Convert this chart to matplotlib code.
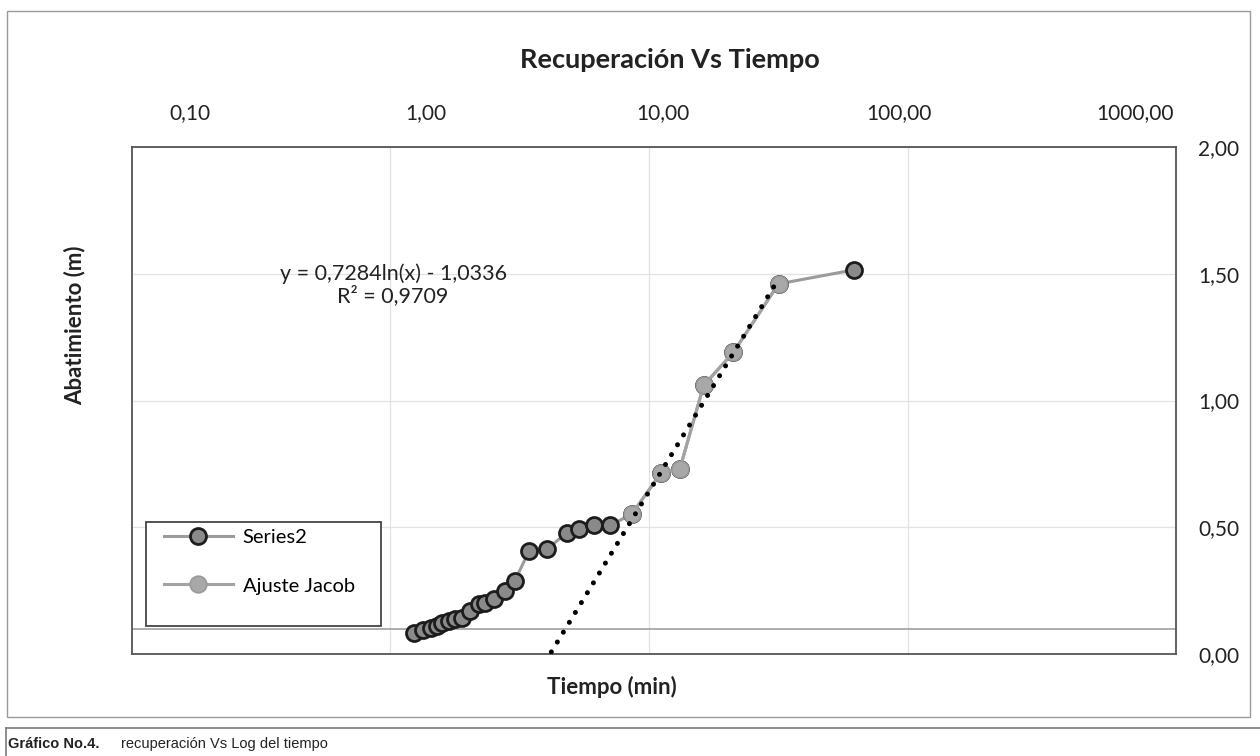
import matplotlib
matplotlib.use("Agg")
import matplotlib.pyplot as plt
from matplotlib.lines import Line2D
from matplotlib.patches import Rectangle
from matplotlib.ticker import FixedLocator, NullLocator, FuncFormatter
import numpy as np

plt.rcParams['font.family'] = ['Lato', 'DejaVu Sans']

# Series2: todos los datos de recuperación
tiempo = [1.23, 1.33, 1.44, 1.51, 1.58, 1.68, 1.78, 1.89, 2.03, 2.19, 2.32, 2.50,
          2.76, 3.02, 3.43, 4.04, 4.80, 5.36, 6.09, 7.06, 8.56, 11.1, 13.1,
          16.2, 21.1, 31.5, 61.4]
abatimiento = [0.084, 0.095, 0.104, 0.112, 0.121, 0.130, 0.137, 0.141, 0.171,
               0.196, 0.200, 0.217, 0.248, 0.288, 0.407, 0.415, 0.479, 0.495,
               0.507, 0.507, 0.553, 0.715, 0.730, 1.06, 1.19, 1.46, 1.515]

# Ajuste Jacob: tramo recto usado para la regresión
tiempo_jacob = [8.56, 11.1, 13.1, 16.2, 21.1, 31.5]
abat_jacob = [0.553, 0.715, 0.730, 1.06, 1.19, 1.46]

# línea de tendencia logarítmica mostrada en el gráfico
pendiente = 0.7284
intercepto = -1.0336
r2 = 0.9709

top_ticks = [0.1, 1, 10, 100, 1000]
top_labels = ["0,10", "1,00", "10,00", "100,00", "1000,00"]
y_ticks = [0.0, 0.5, 1.0, 1.5, 2.0]

W, H = 1260, 756
fig = plt.figure(figsize=(12.6, 7.56), dpi=100)

# marco exterior del gráfico y del pie de figura
fig.patches.append(Rectangle((7 / W, 1 - 717 / H), 1243 / W, 706 / H, transform=fig.transFigure,
                             fill=False, edgecolor="#9a9a9a", linewidth=1.0))
fig.add_artist(Line2D([6 / W, 1.0], [1 - 728 / H, 1 - 728 / H], color="#7a7a7a", linewidth=1.2))
fig.add_artist(Line2D([6 / W, 6 / W], [1 - 728 / H, 0.0], color="#7a7a7a", linewidth=1.2))

ax = fig.add_axes([132 / W, 1 - 654 / H, 1044 / W, 507 / H])
ax.set_xscale("log")
ax.set_xlim(0.1005, 1079)
ax.set_ylim(0, 2)

ax.plot(tiempo, abatimiento, color="#9b9b9b", linewidth=2.2, marker="o", markersize=11.5,
        markerfacecolor="#8a8a8a", markeredgecolor="#1c1c1c", markeredgewidth=2.0,
        label="Series2", zorder=3)
ax.plot(tiempo_jacob, abat_jacob, color="#a3a3a3", linewidth=2.2, marker="o", markersize=12,
        markerfacecolor="#a8a8a8", markeredgecolor="#9a9a9a", markeredgewidth=1.2,
        label="Ajuste Jacob", zorder=4)

xt = np.geomspace(3.2, tiempo_jacob[-1], 200)
ax.plot(xt, pendiente * np.log(xt) + intercepto, color="black", linewidth=3.6,
        linestyle=(0, (0.01, 2.3)), dash_capstyle="round", zorder=5)

ax.axhline(0.1, color="#a0a0a0", linewidth=1.2, zorder=2)

ax.xaxis.set_major_locator(FixedLocator([1, 10, 100]))
ax.xaxis.set_minor_locator(NullLocator())
ax.set_xticklabels([])
ax.tick_params(axis="x", length=0)
ax.grid(True, color="#e2e2e2", linewidth=0.9)
ax.set_axisbelow(True)

ax.yaxis.tick_right()
ax.set_yticks(y_ticks)
ax.yaxis.set_major_formatter(FuncFormatter(lambda v, p: f"{v:.2f}".replace(".", ",")))
ax.tick_params(axis="y", length=0, pad=16, labelsize=15, labelcolor="#222222")
for s in ax.spines.values():
    s.set_color("#555555")
    s.set_linewidth(1.3)

# eje secundario superior con las etiquetas de tiempo
ax2 = ax.twiny()
ax2.set_xscale("log")
ax2.set_xlim(10 ** -1.2455, 10 ** 3.1735)
ax2.set_xticks(top_ticks)
ax2.set_xticklabels(top_labels)
ax2.xaxis.set_minor_locator(NullLocator())
ax2.tick_params(axis="x", length=0, pad=17, labelsize=15, labelcolor="#222222")
for s in ax2.spines.values():
    s.set_visible(False)

ax.text(0.25, 0.751, "y = 0,7284ln(x) - 1,0336", transform=ax.transAxes,
        ha="center", va="center", fontsize=15.5, color="#222222")
ax.text(0.25, 0.706, f"R² = {r2:.4f}".replace(".", ","), transform=ax.transAxes,
        ha="center", va="center", fontsize=15.5, color="#222222")

fig.text(670 / W, 1 - 60 / H, "Recuperación Vs Tiempo", ha="center", va="center",
         fontsize=19.5, fontweight="bold", color="#222222")
fig.text(75 / W, 1 - 325 / H, "Abatimiento (m)", ha="center", va="center", rotation=90,
         fontsize=16, fontweight="bold", color="#222222")
fig.text(612 / W, 1 - 687 / H, "Tiempo (min)", ha="center", va="center",
         fontsize=16, fontweight="bold", color="#222222")

# leyenda con marco propio
fig.patches.append(Rectangle((146 / W, 1 - 626 / H), 235 / W, 104 / H, transform=fig.transFigure,
                             fill=True, facecolor="white", edgecolor="#444444", linewidth=1.3, zorder=6))
leg = fig.legend(loc="upper left", bbox_to_anchor=(150 / W, 1 - 515 / H), frameon=False,
                 fontsize=14.5, handlelength=3.4, labelspacing=1.55, handletextpad=0.5,
                 borderpad=0.2)
leg.set_zorder(7)

fig.text(8 / W, 1 - 744 / H, "Gráfico No.4.", ha="left", va="center", fontsize=10.5,
         fontweight="bold", family="Liberation Sans", color="#222222")
fig.text(121 / W, 1 - 744 / H, "recuperación Vs Log del tiempo", ha="left", va="center",
         fontsize=10.5, family="Liberation Sans", color="#222222")

fig.savefig("out.png", dpi=100)
